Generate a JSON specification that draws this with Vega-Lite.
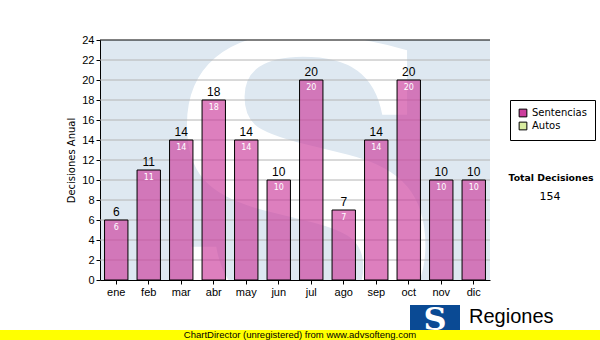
{
  "$schema": "https://vega.github.io/schema/vega-lite/v6.json",
  "width": 390,
  "height": 240,
  "autosize": "none",
  "padding": {"left": 100, "top": 40, "right": 110, "bottom": 60},
  "background": "white",
  "config": {
    "view": {"fill": "#dee8f1", "stroke": null},
    "font": "Liberation Sans"
  },
  "datasets": {
    "meses": [
      {"mes": "ene", "valor": 6, "tipo": "Sentencias"},
      {"mes": "feb", "valor": 11, "tipo": "Sentencias"},
      {"mes": "mar", "valor": 14, "tipo": "Sentencias"},
      {"mes": "abr", "valor": 18, "tipo": "Sentencias"},
      {"mes": "may", "valor": 14, "tipo": "Sentencias"},
      {"mes": "jun", "valor": 10, "tipo": "Sentencias"},
      {"mes": "jul", "valor": 20, "tipo": "Sentencias"},
      {"mes": "ago", "valor": 7, "tipo": "Sentencias"},
      {"mes": "sep", "valor": 14, "tipo": "Sentencias"},
      {"mes": "oct", "valor": 20, "tipo": "Sentencias"},
      {"mes": "nov", "valor": 10, "tipo": "Sentencias"},
      {"mes": "dic", "valor": 10, "tipo": "Sentencias"}
    ],
    "grid": [
      {"g": 2}, {"g": 4}, {"g": 6}, {"g": 8}, {"g": 10}, {"g": 12},
      {"g": 14}, {"g": 16}, {"g": 18}, {"g": 20}, {"g": 22}
    ],
    "top": [{"g": 24}]
  },
  "layer": [
    {
      "data": {"values": [{"t": "S"}]},
      "mark": {"type": "text", "font": "DejaVu Serif", "fontWeight": "bold", "fontSize": 400, "align": "center", "baseline": "alphabetic", "color": "white", "clip": true},
      "encoding": {"x": {"value": 205}, "y": {"value": 290}, "text": {"field": "t"}}
    },
    {
      "data": {"name": "grid"},
      "mark": {"type": "rule", "strokeWidth": 1, "color": "#b4b4b4"},
      "encoding": {
        "y": {"field": "g", "type": "quantitative", "scale": {"domain": [0, 24], "nice": false},
              "axis": {"title": "Decisiones Anual", "titleFontSize": 10, "titleFontWeight": "normal",
                   "titleFont": "DejaVu Sans", "titleColor": "black", "titlePadding": 5,
                   "values": [0, 2, 4, 6, 8, 10, 12, 14, 16, 18, 20, 22, 24], "grid": false,
                   "labelFontSize": 11, "labelColor": "black", "domainColor": "black",
                   "tickColor": "black", "tickSize": 4}}
      }
    },
    {
      "data": {"name": "top"},
      "mark": {"type": "rule", "strokeWidth": 1, "color": "black"},
      "encoding": {
        "y": {"field": "g", "type": "quantitative",
              "axis": {"title": "Decisiones Anual", "titleFontSize": 10, "titleFontWeight": "normal",
                   "titleFont": "DejaVu Sans", "titleColor": "black", "titlePadding": 5,
                   "values": [0, 2, 4, 6, 8, 10, 12, 14, 16, 18, 20, 22, 24], "grid": false,
                   "labelFontSize": 11, "labelColor": "black", "domainColor": "black",
                   "tickColor": "black", "tickSize": 4}}
      }
    },
    {
      "data": {"name": "meses"},
      "mark": {"type": "bar", "stroke": "black", "strokeWidth": 1, "opacity": 1, "fillOpacity": 0.66},
      "encoding": {
        "x": {
          "field": "mes", "type": "nominal", "sort": null,
          "scale": {"paddingInner": 0.28, "paddingOuter": 0.14},
          "axis": {"title": null, "labelAngle": 0, "labelFontSize": 11, "labelColor": "black",
                   "domainColor": "black", "tickColor": "black", "tickSize": 4, "labelPadding": 2}
        },
        "y": {
          "field": "valor", "type": "quantitative",
          "axis": {"title": "Decisiones Anual", "titleFontSize": 10, "titleFontWeight": "normal",
                   "titleFont": "DejaVu Sans", "titleColor": "black", "titlePadding": 5,
                   "values": [0, 2, 4, 6, 8, 10, 12, 14, 16, 18, 20, 22, 24], "grid": false,
                   "labelFontSize": 11, "labelColor": "black", "domainColor": "black",
                   "tickColor": "black", "tickSize": 4}
        },
        "color": {
          "field": "tipo", "type": "nominal",
          "scale": {"domain": ["Sentencias", "Autos"], "range": ["#cc3d9c", "#d9eca0"]},
          "legend": {
            "title": null, "orient": "none", "legendX": 410, "legendY": 60,
            "symbolType": "square", "symbolStrokeColor": "black", "symbolStrokeWidth": 1,
            "symbolSize": 60, "symbolOpacity": 1, "labelFont": "DejaVu Sans", "labelFontSize": 10, "labelColor": "black",
            "strokeColor": "black", "fillColor": "white", "padding": 8, "rowPadding": 1,
            "labelLimit": 100, "values": ["Sentencias", "Autos"]
          }
        }
      }
    },
    {
      "data": {"name": "meses"},
      "mark": {"type": "text", "baseline": "bottom", "dy": -1, "fontSize": 12, "color": "black"},
      "encoding": {
        "x": {"field": "mes", "type": "nominal", "sort": null,
          "axis": {"title": null, "labelAngle": 0, "labelFontSize": 11, "labelColor": "black",
                   "domainColor": "black", "tickColor": "black", "tickSize": 4, "labelPadding": 2}},
        "y": {"field": "valor", "type": "quantitative",
          "axis": {"title": "Decisiones Anual", "titleFontSize": 10, "titleFontWeight": "normal",
                   "titleFont": "DejaVu Sans", "titleColor": "black", "titlePadding": 5,
                   "values": [0, 2, 4, 6, 8, 10, 12, 14, 16, 18, 20, 22, 24], "grid": false,
                   "labelFontSize": 11, "labelColor": "black", "domainColor": "black",
                   "tickColor": "black", "tickSize": 4}},
        "text": {"field": "valor", "type": "quantitative"}
      }
    },
    {
      "data": {"name": "meses"},
      "mark": {"type": "text", "baseline": "top", "dy": 4, "fontSize": 8, "color": "white", "font": "DejaVu Sans"},
      "encoding": {
        "x": {"field": "mes", "type": "nominal", "sort": null,
          "axis": {"title": null, "labelAngle": 0, "labelFontSize": 11, "labelColor": "black",
                   "domainColor": "black", "tickColor": "black", "tickSize": 4, "labelPadding": 2}},
        "y": {"field": "valor", "type": "quantitative",
          "axis": {"title": "Decisiones Anual", "titleFontSize": 10, "titleFontWeight": "normal",
                   "titleFont": "DejaVu Sans", "titleColor": "black", "titlePadding": 5,
                   "values": [0, 2, 4, 6, 8, 10, 12, 14, 16, 18, 20, 22, 24], "grid": false,
                   "labelFontSize": 11, "labelColor": "black", "domainColor": "black",
                   "tickColor": "black", "tickSize": 4}},
        "text": {"field": "valor", "type": "quantitative"}
      }
    },
    {
      "data": {"values": [{"t": "Total Decisiones"}]},
      "mark": {"type": "text", "font": "DejaVu Sans", "fontWeight": "bold", "fontSize": 9.3, "align": "center", "color": "black"},
      "encoding": {"x": {"value": 451}, "y": {"value": 138}, "text": {"field": "t"}}
    },
    {
      "data": {"values": [{"t": "154"}]},
      "mark": {"type": "text", "font": "DejaVu Sans", "fontSize": 11, "align": "center", "color": "black"},
      "encoding": {"x": {"value": 450}, "y": {"value": 157}, "text": {"field": "t"}}
    },
    {
      "data": {"values": [{}]},
      "mark": {"type": "rect", "color": "#0a4a94"},
      "encoding": {"x": {"value": 310}, "x2": {"value": 360}, "y": {"value": 265}, "y2": {"value": 292}}
    },
    {
      "data": {"values": [{"t": "S"}]},
      "mark": {"type": "text", "font": "DejaVu Serif", "fontWeight": "bold", "fontSize": 32, "align": "center", "baseline": "middle", "color": "white"},
      "encoding": {"x": {"value": 335}, "y": {"value": 280}, "text": {"field": "t"}}
    },
    {
      "data": {"values": [{"t": "Regiones"}]},
      "mark": {"type": "text", "font": "Liberation Sans", "fontSize": 20, "align": "left", "baseline": "middle", "color": "black"},
      "encoding": {"x": {"value": 369}, "y": {"value": 277}, "text": {"field": "t"}}
    },
    {
      "data": {"values": [{}]},
      "mark": {"type": "rect", "color": "#ffff00"},
      "encoding": {"x": {"value": -100}, "x2": {"value": 500}, "y": {"value": 290}, "y2": {"value": 300}}
    },
    {
      "data": {"values": [{"t": "ChartDirector (unregistered) from www.advsofteng.com"}]},
      "mark": {"type": "text", "font": "Liberation Sans", "fontSize": 9.5, "align": "center", "baseline": "middle", "color": "black"},
      "encoding": {"x": {"value": 200}, "y": {"value": 295}, "text": {"field": "t"}}
    }
  ]
}
